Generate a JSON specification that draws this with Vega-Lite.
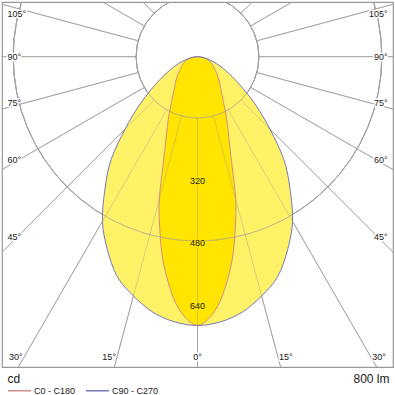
{
  "$schema": "https://vega.github.io/schema/vega-lite/v6.json",
  "width": 391,
  "height": 365,
  "autosize": "none",
  "padding": {"left": 2, "top": 2, "right": 2, "bottom": 28},
  "background": "white",
  "config": {
    "font": "Liberation Sans",
    "view": {"stroke": "#999999", "strokeWidth": 1.2}
  },
  "datasets": {
    "circles": [
      {"x": 0, "y": 0, "r": 160},
      {"x": 0, "y": 0, "r": 320},
      {"x": 0, "y": 0, "r": 480},
      {"x": 0, "y": 0, "r": 640},
      {"x": 0, "y": 0, "r": 800}
    ],
    "spokes": [
      {"x": 0, "y": -160, "x2": 0, "y2": -1400},
      {"x": 41.41, "y": -154.55, "x2": 362.35, "y2": -1352.3},
      {"x": 80, "y": -138.56, "x2": 700, "y2": -1212.44},
      {"x": 113.14, "y": -113.14, "x2": 989.95, "y2": -989.95},
      {"x": 138.56, "y": -80, "x2": 1212.44, "y2": -700},
      {"x": 154.55, "y": -41.41, "x2": 1352.3, "y2": -362.35},
      {"x": 160, "y": 0, "x2": 1400, "y2": 0},
      {"x": 154.55, "y": 41.41, "x2": 1352.3, "y2": 362.35},
      {"x": 138.56, "y": 80, "x2": 1212.44, "y2": 700},
      {"x": 113.14, "y": 113.14, "x2": 989.95, "y2": 989.95},
      {"x": 80, "y": 138.56, "x2": 700, "y2": 1212.44},
      {"x": 41.41, "y": 154.55, "x2": 362.35, "y2": 1352.3},
      {"x": 0, "y": 160, "x2": 0, "y2": 1400},
      {"x": -41.41, "y": -154.55, "x2": -362.35, "y2": -1352.3},
      {"x": -80, "y": -138.56, "x2": -700, "y2": -1212.44},
      {"x": -113.14, "y": -113.14, "x2": -989.95, "y2": -989.95},
      {"x": -138.56, "y": -80, "x2": -1212.44, "y2": -700},
      {"x": -154.55, "y": -41.41, "x2": -1352.3, "y2": -362.35},
      {"x": -160, "y": 0, "x2": -1400, "y2": 0},
      {"x": -154.55, "y": 41.41, "x2": -1352.3, "y2": 362.35},
      {"x": -138.56, "y": 80, "x2": -1212.44, "y2": 700},
      {"x": -113.14, "y": 113.14, "x2": -989.95, "y2": 989.95},
      {"x": -80, "y": 138.56, "x2": -700, "y2": 1212.44},
      {"x": -41.41, "y": 154.55, "x2": -362.35, "y2": 1352.3}
    ],
    "curves": [
      {"curve": "C0 - C180", "i": 0, "x": 0, "y": 0},
      {"curve": "C0 - C180", "i": 1, "x": -8.97, "y": -0.78},
      {"curve": "C0 - C180", "i": 2, "x": -17.73, "y": -3.13},
      {"curve": "C0 - C180", "i": 3, "x": -26.08, "y": -6.99},
      {"curve": "C0 - C180", "i": 4, "x": -31.01, "y": -11.29},
      {"curve": "C0 - C180", "i": 5, "x": -35.35, "y": -16.48},
      {"curve": "C0 - C180", "i": 6, "x": -39.84, "y": -23},
      {"curve": "C0 - C180", "i": 7, "x": -44.23, "y": -30.97},
      {"curve": "C0 - C180", "i": 8, "x": -49.03, "y": -41.14},
      {"curve": "C0 - C180", "i": 9, "x": -53.74, "y": -53.74},
      {"curve": "C0 - C180", "i": 10, "x": -57.85, "y": -68.94},
      {"curve": "C0 - C180", "i": 11, "x": -61.37, "y": -87.65},
      {"curve": "C0 - C180", "i": 12, "x": -67.5, "y": -116.91},
      {"curve": "C0 - C180", "i": 13, "x": -76.07, "y": -163.14},
      {"curve": "C0 - C180", "i": 14, "x": -83.8, "y": -230.22},
      {"curve": "C0 - C180", "i": 15, "x": -90.21, "y": -286.12},
      {"curve": "C0 - C180", "i": 16, "x": -99.65, "y": -371.88},
      {"curve": "C0 - C180", "i": 17, "x": -98.48, "y": -444.21},
      {"curve": "C0 - C180", "i": 18, "x": -91.69, "y": -519.98},
      {"curve": "C0 - C180", "i": 19, "x": -77.01, "y": -584.95},
      {"curve": "C0 - C180", "i": 20, "x": -56.22, "y": -642.55},
      {"curve": "C0 - C180", "i": 21, "x": -29.75, "y": -681.35},
      {"curve": "C0 - C180", "i": 22, "x": 0, "y": -700},
      {"curve": "C0 - C180", "i": 23, "x": 29.75, "y": -681.35},
      {"curve": "C0 - C180", "i": 24, "x": 56.22, "y": -642.55},
      {"curve": "C0 - C180", "i": 25, "x": 77.01, "y": -584.95},
      {"curve": "C0 - C180", "i": 26, "x": 91.69, "y": -519.98},
      {"curve": "C0 - C180", "i": 27, "x": 98.48, "y": -444.21},
      {"curve": "C0 - C180", "i": 28, "x": 99.65, "y": -371.88},
      {"curve": "C0 - C180", "i": 29, "x": 90.21, "y": -286.12},
      {"curve": "C0 - C180", "i": 30, "x": 83.8, "y": -230.22},
      {"curve": "C0 - C180", "i": 31, "x": 76.07, "y": -163.14},
      {"curve": "C0 - C180", "i": 32, "x": 67.5, "y": -116.91},
      {"curve": "C0 - C180", "i": 33, "x": 61.37, "y": -87.65},
      {"curve": "C0 - C180", "i": 34, "x": 57.85, "y": -68.94},
      {"curve": "C0 - C180", "i": 35, "x": 53.74, "y": -53.74},
      {"curve": "C0 - C180", "i": 36, "x": 49.03, "y": -41.14},
      {"curve": "C0 - C180", "i": 37, "x": 44.23, "y": -30.97},
      {"curve": "C0 - C180", "i": 38, "x": 39.84, "y": -23},
      {"curve": "C0 - C180", "i": 39, "x": 35.35, "y": -16.48},
      {"curve": "C0 - C180", "i": 40, "x": 31.01, "y": -11.29},
      {"curve": "C0 - C180", "i": 41, "x": 26.08, "y": -6.99},
      {"curve": "C0 - C180", "i": 42, "x": 17.73, "y": -3.13},
      {"curve": "C0 - C180", "i": 43, "x": 8.97, "y": -0.78},
      {"curve": "C90 - C270", "i": 0, "x": 0, "y": 0},
      {"curve": "C90 - C270", "i": 1, "x": -8.97, "y": -0.78},
      {"curve": "C90 - C270", "i": 2, "x": -19.7, "y": -3.47},
      {"curve": "C90 - C270", "i": 3, "x": -32.84, "y": -8.8},
      {"curve": "C90 - C270", "i": 4, "x": -48.86, "y": -17.79},
      {"curve": "C90 - C270", "i": 5, "x": -67.97, "y": -31.7},
      {"curve": "C90 - C270", "i": 6, "x": -90.93, "y": -52.5},
      {"curve": "C90 - C270", "i": 7, "x": -118.78, "y": -83.17},
      {"curve": "C90 - C270", "i": 8, "x": -153.21, "y": -128.56},
      {"curve": "C90 - C270", "i": 9, "x": -188.8, "y": -188.8},
      {"curve": "C90 - C270", "i": 10, "x": -224.98, "y": -268.12},
      {"curve": "C90 - C270", "i": 11, "x": -240.9, "y": -344.04},
      {"curve": "C90 - C270", "i": 12, "x": -247.5, "y": -428.68},
      {"curve": "C90 - C270", "i": 13, "x": -234.55, "y": -503},
      {"curve": "C90 - C270", "i": 14, "x": -208.63, "y": -573.21},
      {"curve": "C90 - C270", "i": 15, "x": -166.94, "y": -623.02},
      {"curve": "C90 - C270", "i": 16, "x": -117.21, "y": -664.75},
      {"curve": "C90 - C270", "i": 17, "x": -60.4, "y": -690.36},
      {"curve": "C90 - C270", "i": 18, "x": 0, "y": -700},
      {"curve": "C90 - C270", "i": 19, "x": 60.4, "y": -690.36},
      {"curve": "C90 - C270", "i": 20, "x": 117.21, "y": -664.75},
      {"curve": "C90 - C270", "i": 21, "x": 166.94, "y": -623.02},
      {"curve": "C90 - C270", "i": 22, "x": 208.63, "y": -573.21},
      {"curve": "C90 - C270", "i": 23, "x": 234.55, "y": -503},
      {"curve": "C90 - C270", "i": 24, "x": 247.5, "y": -428.68},
      {"curve": "C90 - C270", "i": 25, "x": 240.9, "y": -344.04},
      {"curve": "C90 - C270", "i": 26, "x": 224.98, "y": -268.12},
      {"curve": "C90 - C270", "i": 27, "x": 188.8, "y": -188.8},
      {"curve": "C90 - C270", "i": 28, "x": 153.21, "y": -128.56},
      {"curve": "C90 - C270", "i": 29, "x": 118.78, "y": -83.17},
      {"curve": "C90 - C270", "i": 30, "x": 90.93, "y": -52.5},
      {"curve": "C90 - C270", "i": 31, "x": 67.97, "y": -31.7},
      {"curve": "C90 - C270", "i": 32, "x": 48.86, "y": -17.79},
      {"curve": "C90 - C270", "i": 33, "x": 32.84, "y": -8.8},
      {"curve": "C90 - C270", "i": 34, "x": 19.7, "y": -3.47},
      {"curve": "C90 - C270", "i": 35, "x": 8.97, "y": -0.78}
    ],
    "labels": [
      {"g": "L", "t": "105°", "x": -495, "y": 112},
      {"g": "L", "t": "90°", "x": -495, "y": 0},
      {"g": "L", "t": "75°", "x": -495, "y": -121},
      {"g": "L", "t": "60°", "x": -495, "y": -268},
      {"g": "L", "t": "45°", "x": -495, "y": -470},
      {"g": "R", "t": "105°", "x": 495, "y": 112},
      {"g": "R", "t": "90°", "x": 495, "y": 0},
      {"g": "R", "t": "75°", "x": 495, "y": -121},
      {"g": "R", "t": "60°", "x": 495, "y": -268},
      {"g": "R", "t": "45°", "x": 495, "y": -470},
      {"g": "B", "t": "30°", "x": -473, "y": -782},
      {"g": "B", "t": "15°", "x": -230, "y": -782},
      {"g": "B", "t": "0°", "x": 0, "y": -782},
      {"g": "B", "t": "15°", "x": 230, "y": -782},
      {"g": "B", "t": "30°", "x": 473, "y": -782},
      {"g": "V", "t": "320", "x": 0, "y": -324},
      {"g": "V", "t": "480", "x": 0, "y": -486},
      {"g": "V", "t": "640", "x": 0, "y": -649}
    ]
  },
  "encoding": {
    "x": {
      "field": "x", "type": "quantitative",
      "scale": {"domain": [-509.11, 509.11], "nice": false, "zero": false},
      "axis": {"domain": false, "ticks": false, "labels": false, "grid": false,
        "title": "800 lm", "titleX": 387, "titleY": 11, "titleAlign": "right", "titleBaseline": "middle",
        "titleAngle": 0, "titleFontSize": 12, "titleFontWeight": "normal", "titleColor": "#1a1a1a", "titleFont": "Liberation Sans"}
    },
    "y": {
      "field": "y", "type": "quantitative",
      "scale": {"domain": [-808.12, 142.4], "nice": false, "zero": false},
      "axis": {"domain": false, "ticks": false, "labels": false, "grid": false,
        "title": "cd", "titleX": 5, "titleY": 376.5, "titleAlign": "left", "titleBaseline": "middle",
        "titleAngle": 0, "titleFontSize": 12, "titleFontWeight": "normal", "titleColor": "#1a1a1a", "titleFont": "Liberation Sans"}
    }
  },
  "layer": [
    {
      "data": {"name": "circles"},
      "mark": {"type": "arc", "filled": false, "stroke": "#aaaaaa", "strokeWidth": 1, "theta": 0, "theta2": 6.2832, "clip": true},
      "encoding": {"radius": {"field": "r", "type": "quantitative", "scale": {"type": "linear", "domain": [0, 1000], "range": [0, 384], "zero": true}}}
    },
    {
      "data": {"name": "spokes"},
      "mark": {"type": "rule", "stroke": "#aaaaaa", "strokeWidth": 1, "clip": true},
      "encoding": {"x2": {"field": "x2"}, "y2": {"field": "y2"}}
    },
    {
      "data": {"name": "curves"},
      "transform": [{"filter": "datum.curve == 'C90 - C270'"}],
      "mark": {"type": "line", "fill": "#fff266", "stroke": "transparent", "interpolate": "cardinal-closed"},
      "encoding": {"order": {"field": "i", "type": "quantitative"}}
    },
    {
      "data": {"name": "curves"},
      "transform": [{"filter": "datum.curve == 'C0 - C180'"}],
      "mark": {"type": "line", "fill": "#ffe500", "stroke": "transparent", "interpolate": "cardinal-closed"},
      "encoding": {"order": {"field": "i", "type": "quantitative"}}
    },
    {
      "data": {"name": "circles"},
      "mark": {"type": "arc", "filled": false, "stroke": "#999999", "strokeOpacity": 0.4, "strokeWidth": 1, "theta": 0, "theta2": 6.2832, "clip": true},
      "encoding": {"radius": {"field": "r", "type": "quantitative"}}
    },
    {
      "data": {"name": "spokes"},
      "mark": {"type": "rule", "stroke": "#999999", "strokeOpacity": 0.4, "strokeWidth": 1, "clip": true},
      "encoding": {"x2": {"field": "x2"}, "y2": {"field": "y2"}}
    },
    {
      "data": {"name": "curves"},
      "mark": {"type": "line", "strokeWidth": 1, "interpolate": "cardinal-closed"},
      "encoding": {
        "order": {"field": "i", "type": "quantitative"},
        "stroke": {
          "field": "curve", "type": "nominal",
          "scale": {"domain": ["C0 - C180", "C90 - C270"], "range": ["#d08c8c", "#7777bb"]},
          "legend": {"title": null, "orient": "none", "legendX": 5, "legendY": 376, "direction": "horizontal",
            "symbolType": "stroke", "symbolSize": 529, "symbolStrokeWidth": 1.5,
            "labelFontSize": 9, "labelFont": "Liberation Sans", "labelColor": "#1a1a1a", "labelOffset": 2,
            "columnPadding": 7, "padding": 0}
        }
      }
    },
    {
      "data": {"name": "labels"},
      "transform": [{"filter": "datum.g == 'L'"}],
      "mark": {"type": "text", "align": "left", "baseline": "middle", "fontSize": 9, "color": "#1a1a1a", "stroke": "white", "strokeWidth": 3, "strokeJoin": "round"},
      "encoding": {"text": {"field": "t"}}
    },
    {
      "data": {"name": "labels"},
      "transform": [{"filter": "datum.g == 'L'"}],
      "mark": {"type": "text", "align": "left", "baseline": "middle", "fontSize": 9, "color": "#1a1a1a"},
      "encoding": {"text": {"field": "t"}}
    },
    {
      "data": {"name": "labels"},
      "transform": [{"filter": "datum.g == 'R'"}],
      "mark": {"type": "text", "align": "right", "baseline": "middle", "fontSize": 9, "color": "#1a1a1a", "stroke": "white", "strokeWidth": 3, "strokeJoin": "round"},
      "encoding": {"text": {"field": "t"}}
    },
    {
      "data": {"name": "labels"},
      "transform": [{"filter": "datum.g == 'R'"}],
      "mark": {"type": "text", "align": "right", "baseline": "middle", "fontSize": 9, "color": "#1a1a1a"},
      "encoding": {"text": {"field": "t"}}
    },
    {
      "data": {"name": "labels"},
      "transform": [{"filter": "datum.g == 'B'"}],
      "mark": {"type": "text", "align": "center", "baseline": "middle", "fontSize": 9, "color": "#1a1a1a", "stroke": "white", "strokeWidth": 3, "strokeJoin": "round"},
      "encoding": {"text": {"field": "t"}}
    },
    {
      "data": {"name": "labels"},
      "transform": [{"filter": "datum.g == 'B'"}],
      "mark": {"type": "text", "align": "center", "baseline": "middle", "fontSize": 9, "color": "#1a1a1a"},
      "encoding": {"text": {"field": "t"}}
    },
    {
      "data": {"name": "labels"},
      "transform": [{"filter": "datum.g == 'V'"}],
      "mark": {"type": "text", "align": "center", "baseline": "middle", "fontSize": 9, "color": "#1a1a1a", "stroke": "#ffe500", "strokeWidth": 3, "strokeJoin": "round"},
      "encoding": {"text": {"field": "t"}}
    },
    {
      "data": {"name": "labels"},
      "transform": [{"filter": "datum.g == 'V'"}],
      "mark": {"type": "text", "align": "center", "baseline": "middle", "fontSize": 9, "color": "#1a1a1a"},
      "encoding": {"text": {"field": "t"}}
    }
  ]
}
